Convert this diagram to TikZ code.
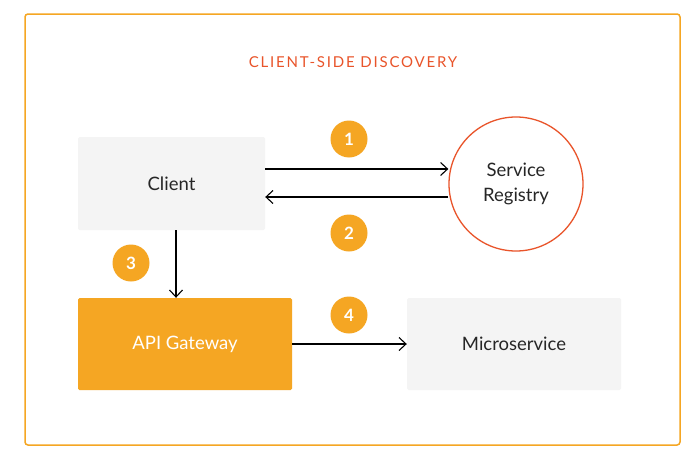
\documentclass[tikz,border=0pt]{standalone}
\usepackage{fontspec}
\setmainfont{Lato}
\newfontfamily\titlefont[LetterSpace=12]{Lato}
\usetikzlibrary{arrows.meta}
\definecolor{gold}{HTML}{F5A623}
\definecolor{redorange}{HTML}{E9542A}
\definecolor{lightbox}{HTML}{F4F4F4}
\definecolor{txt}{HTML}{262626}
\tikzset{
  x=1pt,y=-1pt,
  greybox/.style={fill=lightbox,draw=none,rounded corners=1.5pt,font=\fontsize{18.5}{22}\selectfont,text=txt},
  goldbox/.style={fill=gold,draw=none,rounded corners=1.5pt,font=\fontsize{18.5}{22}\selectfont,text=white},
  badge/.style={circle,fill=gold,draw=none,minimum size=37pt,inner sep=0pt,text=white,font=\fontsize{17}{20}\selectfont\bfseries},
  conn/.style={draw=black,line width=1.1pt,-{Straight Barb[length=7pt,width=13pt,line width=1.1pt]}},
}
\begin{document}
\begin{tikzpicture}
\useasboundingbox (0,0) rectangle (690,455);
\fill[white] (0,0) rectangle (690,455);
\draw[gold,line width=1.5pt,rounded corners=3pt] (25,14) rectangle (680,445);
\node[text=redorange,font=\titlefont\fontsize{15}{18}\selectfont] (title) at (353,62) {CLIENT-SIDE DISCOVERY};
\node[greybox,minimum width=187pt,minimum height=93pt] (client) at (171.5,183.5) {Client};
\node[circle,draw=redorange,line width=1.3pt,minimum size=134pt,inner sep=0pt,align=center,font=\fontsize{18.5}{25}\selectfont,text=txt] (reg) at (516,184) {Service\\Registry};
\node[goldbox,minimum width=214pt,minimum height=92pt] (api) at (185,344) {API Gateway};
\node[greybox,minimum width=214pt,minimum height=92pt] (micro) at (514,344) {Microservice};
\node[badge] (b1) at (349,139) {1};
\node[badge] (b2) at (349,233) {2};
\node[badge] (b3) at (131,263) {3};
\node[badge] (b4) at (349,315) {4};
\coordinate (c1s) at (client.east |- 0,169);
\coordinate (c2e) at (client.east |- 0,197);
\draw[conn] (c1s) -- (reg.west |- c1s);
\draw[conn] (reg.west |- c2e) -- (c2e);
\draw[conn] (client.south -| 176,0) -- (api.north -| 176,0);
\draw[conn] (api.east) -- (micro.west);
\end{tikzpicture}
\end{document}
